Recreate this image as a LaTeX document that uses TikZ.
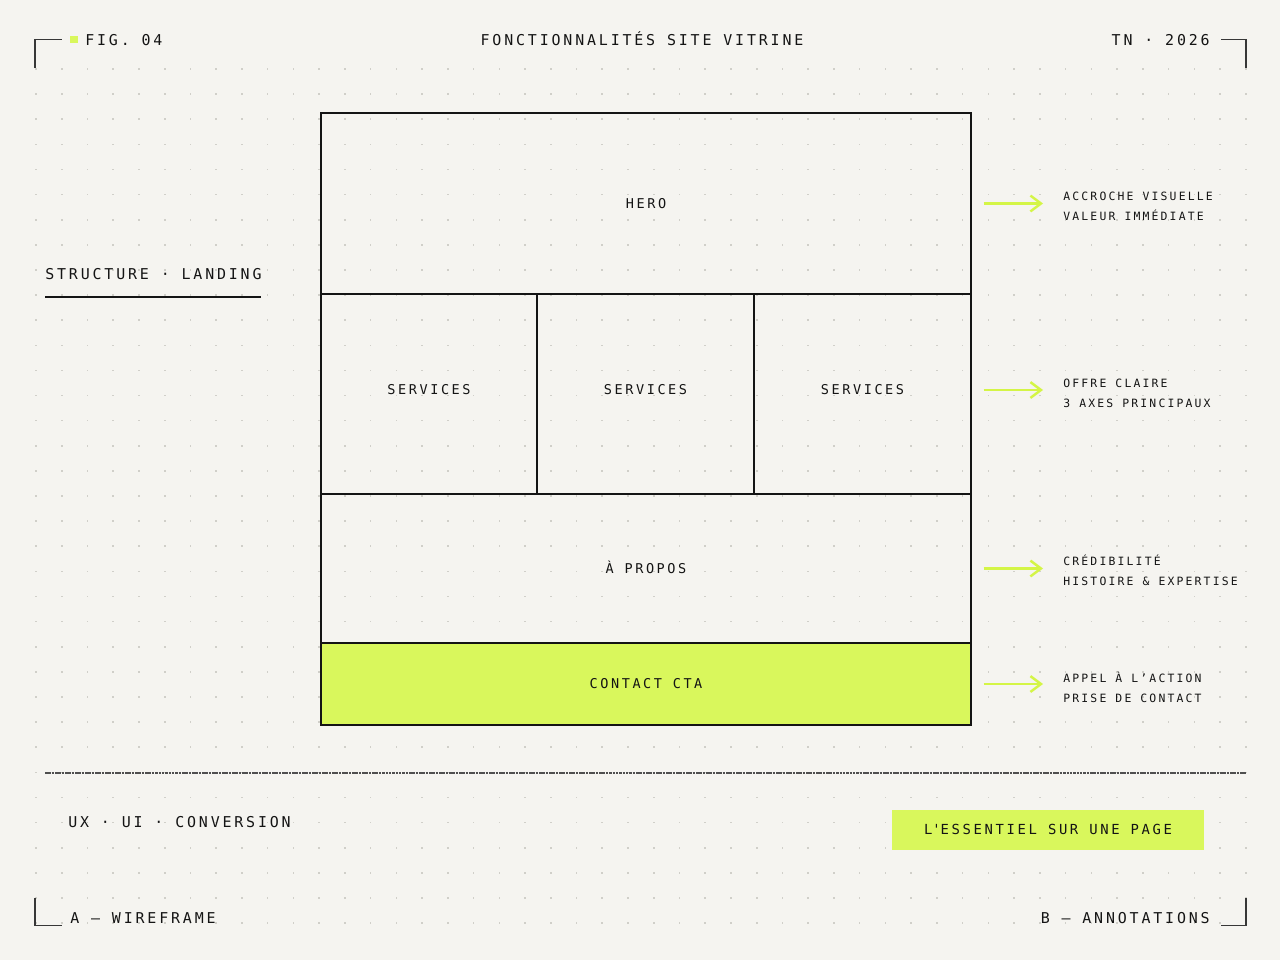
\documentclass[tikz,border=0pt]{standalone}
\usepackage{fontspec}
\usetikzlibrary{arrows.meta}
\newfontfamily\mono[LetterSpace=19]{DejaVu Sans Mono}
\definecolor{paper}{RGB}{245,244,240}
\definecolor{limefill}{RGB}{217,247,92}
\definecolor{limeline}{RGB}{212,245,70}
\definecolor{ink}{RGB}{20,20,20}
\definecolor{dotgray}{RGB}{208,207,201}

\begin{document}
\begin{tikzpicture}[x=0.02cm, y=-0.02cm,
		block/.style={draw=ink, line width=0.7pt, rectangle, inner sep=0pt, text height=5.6pt, text depth=0pt, font=\mono\fontsize{7.7}{9}\selectfont, text=ink},
		note/.style={anchor=west, align=left, inner sep=0pt, font=\mono\fontsize{6.5}{11.3}\selectfont, text=ink},
		tag/.style={inner sep=0pt, text height=6.2pt, text depth=0pt, font=\mono\fontsize{8.5}{10}\selectfont, text=ink},
		flow/.style={draw=limeline, line width=1.5pt, -{Straight Barb[length=6pt, width=9pt, line width=1.4pt]}},
		corner/.style={draw=ink!85, line width=0.9pt}]
	\fill[paper] (0,0) rectangle (1280,960);
	\foreach \i in {0,...,47}
		\foreach \j in {0,...,34}
			\fill[dotgray] ({36+\i*25.74-0.8},{69+\j*25.12-0.8}) rectangle ++(1.6,1.6);

	\fill[limefill] (70,36) rectangle (78,43);
	\node[tag, anchor=west] (fig) at (85,40) {FIG. 04};
	\node[tag] (title) at (642,40) {FONCTIONNALITÉS SITE VITRINE};
	\node[tag, anchor=east] (year) at (1210,40) {TN · 2026};
	\draw[corner] (35,68) -- (35,39.5) -- (62,39.5);
	\draw[corner] (1221,39.5) -- (1246,39.5) -- (1246,68);
	\draw[corner] (35,898) -- (35,925.5) -- (62,925.5);
	\draw[corner] (1221,925.5) -- (1246,925.5) -- (1246,898);

	\node[tag, anchor=west] (struct) at (45,274) {STRUCTURE · LANDING};
	\draw[ink, line width=0.8pt] (45,297) -- (261,297);

	\node[block, minimum width=13cm, minimum height=3.62cm] (hero) at (646,203.5) {HERO};
	\node[block, minimum width=4.32cm, minimum height=4cm, text depth=4.5pt] (svc1) at (429,394) {SERVICES};
	\node[block, minimum width=4.34cm, minimum height=4cm, text depth=4.5pt] (svc2) at (645.5,394) {SERVICES};
	\node[block, minimum width=4.34cm, minimum height=4cm, text depth=4.5pt] (svc3) at (862.5,394) {SERVICES};
	\node[block, minimum width=13cm, minimum height=2.98cm] (about) at (646,568.5) {À PROPOS};
	\node[block, fill=limefill, minimum width=13cm, minimum height=1.64cm] (cta) at (646,684) {CONTACT CTA};

	\node[note] (n1) at (1063,206) {ACCROCHE VISUELLE\\VALEUR IMMÉDIATE};
	\node[note] (n2) at (1063,393) {OFFRE CLAIRE\\3 AXES PRINCIPAUX};
	\node[note] (n3) at (1063,570) {CRÉDIBILITÉ\\HISTOIRE \& EXPERTISE};
	\node[note] (n4) at (1063,687) {APPEL À L’ACTION\\PRISE DE CONTACT};
	\draw[flow] ([xshift=0.24cm]hero.east) -- ([xshift=-0.4cm]hero.east -| n1.west);
	\draw[flow] ([xshift=0.24cm, yshift=0.08cm]svc3.east) -- ([xshift=-0.4cm, yshift=0.08cm]svc3.east -| n2.west);
	\draw[flow] ([xshift=0.24cm]about.east) -- ([xshift=-0.4cm]about.east -| n3.west);
	\draw[flow] ([xshift=0.24cm]cta.east) -- ([xshift=-0.4cm]cta.east -| n4.west);

	\draw[ink!75, line width=0.6pt, dash pattern=on 1.5pt off 0.4pt] (45,773) -- (1246,773);

	\node[tag, anchor=west] (stack) at (68,822) {UX · UI · CONVERSION};
	\node[tag, fill=limefill, minimum width=6.24cm, minimum height=0.8cm, text depth=1pt, font=\mono\fontsize{7.9}{9}\selectfont] (motto) at (1048,830) {L\textquotesingle ESSENTIEL SUR UNE PAGE};
	\node[tag, anchor=west] (partA) at (70,918) {A — WIREFRAME};
	\node[tag, anchor=east] (partB) at (1210,918) {B — ANNOTATIONS};
\end{tikzpicture}
\end{document}
